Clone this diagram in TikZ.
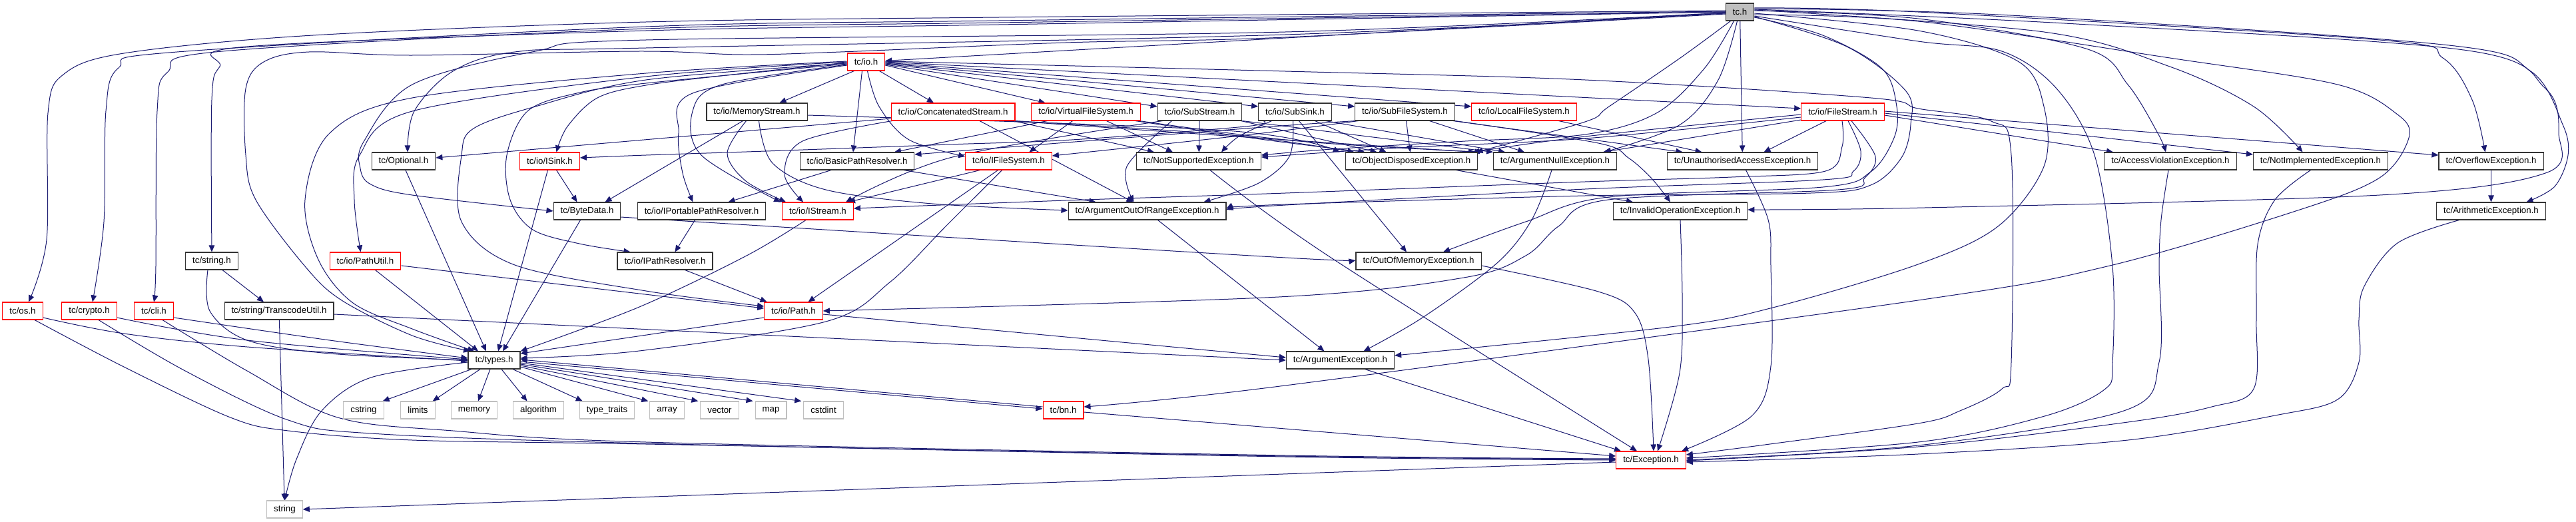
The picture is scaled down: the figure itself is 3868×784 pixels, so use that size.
\documentclass[tikz,border=0pt]{standalone}
\usepackage{fontspec}
\setmainfont{Liberation Sans}
\usetikzlibrary{arrows.meta}
\definecolor{edgec}{HTML}{191970}
\definecolor{redb}{HTML}{FF0000}
\definecolor{grayb}{HTML}{BFBFBF}
\definecolor{darkb}{HTML}{333333}
\pgfdeclarelayer{edgelayer}
\pgfsetlayers{edgelayer,main}
\begin{document}
\begin{tikzpicture}[x=1pt,y=-1pt,
  hbox/.style={rectangle,inner xsep=10.5pt,inner ysep=0pt,minimum height=26pt,line width=1.1pt,fill=white,
     font=\fontsize{13.3pt}{16pt}\selectfont},
  nblk/.style={hbox,draw=darkb},
  nred/.style={hbox,draw=redb},
  nsys/.style={hbox,draw=grayb},
  nroot/.style={hbox,draw=darkb,fill=grayb},
  edg/.style={draw=edgec,line width=1pt,-{Triangle[length=10pt,width=8.5pt]}},
  cv/.style={smooth,tension=0.55}]
\useasboundingbox (0,0) rectangle (3868,784);
% nodes
\node[nroot] (tc) at (2612.5,18) {tc.h};
\node[nred] (io) at (1300.5,93) {tc/io.h};
\node[nblk] (memst) at (1136.5,168) {tc/io/MemoryStream.h};
\node[nred] (concat) at (1431,168) {tc/io/ConcatenatedStream.h};
\node[nred] (vfs) at (1630.5,168) {tc/io/VirtualFileSystem.h};
\node[nblk] (subst) at (1801.5,168) {tc/io/SubStream.h};
\node[nblk] (subsink) at (1944.5,168) {tc/io/SubSink.h};
\node[nblk] (subfs) at (2109.5,168) {tc/io/SubFileSystem.h};
\node[nred] (localfs) at (2288.5,168) {tc/io/LocalFileSystem.h};
\node[nred] (filest) at (2767,168) {tc/io/FileStream.h};
\node[nblk] (optional) at (606,242) {tc/Optional.h};
\node[nred] (isink) at (825.5,242) {tc/io/ISink.h};
\node[nblk] (basicpr) at (1287,242) {tc/io/BasicPathResolver.h};
\node[nred] (ifs) at (1514.5,242) {tc/io/IFileSystem.h};
\node[nblk] (notsup) at (1800,242) {tc/NotSupportedException.h};
\node[nblk] (objdisp) at (2119.5,242) {tc/ObjectDisposedException.h};
\node[nblk] (argnull) at (2335,242) {tc/ArgumentNullException.h};
\node[nblk] (unauth) at (2616.5,242) {tc/UnauthorisedAccessException.h};
\node[nblk] (accviol) at (3259,242) {tc/AccessViolationException.h};
\node[nblk] (notimpl) at (3484.5,242) {tc/NotImplementedException.h};
\node[nblk] (overflow) at (3740.5,242) {tc/OverflowException.h};
\node[nblk] (bytedata) at (881.5,317) {tc/ByteData.h};
\node[nblk] (iportable) at (1053.5,317) {tc/io/IPortablePathResolver.h};
\node[nred] (istream) at (1228,317) {tc/io/IStream.h};
\node[nblk] (argoor) at (1722.5,317) {tc/ArgumentOutOfRangeException.h};
\node[nblk] (invop) at (2523,317) {tc/InvalidOperationException.h};
\node[nblk] (arith) at (3740.5,317) {tc/ArithmeticException.h};
\node[nblk] (tcstring) at (318,392) {tc/string.h};
\node[nred] (pathutil) at (548.5,392) {tc/io/PathUtil.h};
\node[nblk] (ipathres) at (998.5,392) {tc/io/IPathResolver.h};
\node[nblk] (outofmem) at (2130,392) {tc/OutOfMemoryException.h};
\node[nred] (os) at (34,467) {tc/os.h};
\node[nred] (crypto) at (134,467) {tc/crypto.h};
\node[nred] (cli) at (231,467) {tc/cli.h};
\node[nblk] (transcode) at (419,467) {tc/string/TranscodeUtil.h};
\node[nred] (path) at (1191.5,467) {tc/io/Path.h};
\node[nblk] (types) at (742,541) {tc/types.h};
\node[nblk] (argex) at (2012.5,541) {tc/ArgumentException.h};
\node[nsys] (cstring) at (546,616) {cstring};
\node[nsys] (limits) at (627.5,616) {limits};
\node[nsys] (memory) at (712,616) {memory};
\node[nsys] (algorithm) at (808.5,616) {algorithm};
\node[nsys] (typetraits) at (911.5,616) {type\_traits};
\node[nsys] (array) at (1001.5,616) {array};
\node[nsys] (vector) at (1080.5,616) {vector};
\node[nsys] (map) at (1157.5,616) {map};
\node[nsys] (cstdint) at (1236.5,616) {cstdint};
\node[nred] (bn) at (1596.5,616) {tc/bn.h};
\node[nred] (exception) at (2479,691) {tc/Exception.h};
\node[nsys] (string) at (427.5,765) {string};

\begin{pgfonlayer}{edgelayer}
\fill[white] (0,0) rectangle (3868,784);
% ---- tc.h
\draw[edg] plot[cv] coordinates {([yshift=2pt]tc.west) (1500,26) (970,33) (470,53) (186,80) (95,112) (72,170) (70,360) ([xshift=9pt]os.north)};
\draw[edg] plot[cv] coordinates {([yshift=1pt]tc.west) (1500,31) (970,40) (266,78) (178,102) (159,167) (156,333) ([xshift=5pt]crypto.north)};
\draw[edg] plot[cv] coordinates {(tc.west) (1500,34) (970,43) (334,77) (252,108) (236,167) (234,400) (cli.north)};
\draw[edg] plot[cv] coordinates {(tc.west) (1500,37) (970,46) (371,70) (330,100) (318,150) (tcstring.north)};
\draw[edg] plot[cv] coordinates {([yshift=-3pt]tc.west) (1930,56) (1600,64) (1262,78) (1115,82) (960,77) (619,83) (464,78) (396,93) (369,133) (369,233) (384,300) (458,400) (513,451) (619,504) ([xshift=-36pt]types.north)};
\draw[edg] plot[cv] coordinates {([yshift=-2pt]tc.west) (1930,52) (970,72) (773,78) (680,107) (622,167) ([xshift=6pt]optional.north)};
\draw[edg] plot[cv] coordinates {([yshift=-1pt]tc.west) (1930,48) (970,60) (804,77) (619,127) (546,213) (541,253) (557,277) (619,293) (bytedata.west)};
\draw[edg] (tc) -- (io);
\draw[edg] plot[cv] coordinates {([yshift=-4pt]tc.east) (2880,32) (3258,87) (3510,127) (3600,172) (3617,207) (3573,267) (3447,317) (3164,400) (2880,451) (1930,579) ([yshift=5pt]bn.east)};
\draw[edg] plot[cv] coordinates {([yshift=-2pt]tc.east) (2880,46) (3030,92) (3069,160) (3069,250) (3000,340) (2880,397) (2662,462) (2508,491) ([yshift=7pt]argex.east)};
\draw[edg] plot[cv] coordinates {([yshift=-6pt]tc.east) (2880,62) (3006,77) (3088,133) (3145,233) (3172,400) (3172,544) (3160,585) (3070,625) (2880,664) ([yshift=3pt]exception.east)};
\draw[edg] plot[cv] coordinates {([yshift=2pt]tc.east) (2880,28) (3132,73) (3195,127) (3240,200) ([xshift=-7pt]accviol.north)};
\draw[edg] plot[cv] coordinates {([yshift=3pt]tc.east) (3069,48) (3258,100) (3384,160) ([xshift=-27pt]notimpl.north)};
\draw[edg] plot[cv] coordinates {([yshift=6pt]tc.east) (2880,18) (3573,60) (3668,87) (3712,150) ([xshift=-9pt]overflow.north)};
\draw[edg] plot[cv] coordinates {([yshift=5pt]tc.east) (3000,22) (3668,67) (3800,107) (3848,187) (3856,233) (3836,280) ([xshift=53pt]arith.north)};
\draw[edg] plot[cv] coordinates {([yshift=4pt]tc.east) (3100,35) (3699,75) (3822,133) (3842,200) (3822,260) (3573,293) (2890,312) ([yshift=2pt]invop.east)};
\draw[edg] (tc) -- (unauth);
\draw[edg] plot[cv] coordinates {([xshift=-4pt]tc.south) (2580,120) (2523,187) ([xshift=74pt]argnull.north)};
\draw[edg] plot[cv] coordinates {([xshift=-14pt]tc.south) (2523,87) (2416,160) (2380,183) ([xshift=97pt]objdisp.north)};
\draw[edg] plot[cv] coordinates {([xshift=-9pt]tc.south) (2559,103) (2487,170) (2380,202) (2200,212) (2000,224) ([yshift=9pt]notsup.east)};
\draw[edg] plot[cv] coordinates {([yshift=-7pt]tc.east) (2773,70) (2862,137) (2869,187) (2855,237) (2809,278) (2719,290) (2380,294) (1930,307) ([yshift=4pt]argoor.east)};
\draw[edg] plot[cv] coordinates {([yshift=-8pt]tc.east) (2737,53) (2826,103) (2848,160) (2844,207) (2809,258) (2737,281) (2415,296) (2291,333) ([xshift=37pt]outofmem.north)};
% ---- io.h
\draw[edg] ([xshift=-18pt]io.south) -- ([xshift=34pt]memst.north);
\draw[edg] ([xshift=20pt]io.south) -- ([xshift=-29pt]concat.north);
\draw[edg] ([yshift=-5pt]io.east) -- ([xshift=-61pt]vfs.north);
\draw[edg] ([yshift=-4pt]io.east) -- ([yshift=8pt]subst.west);
\draw[edg] ([yshift=-3pt]io.east) -- ([yshift=8pt]subsink.west);
\draw[edg] ([yshift=-2pt]io.east) -- ([yshift=8pt]subfs.west);
\draw[edg] ([yshift=-1pt]io.east) -- ([yshift=8pt]localfs.west);
\draw[edg] ([yshift=0pt]io.east) -- ([yshift=5pt]filest.west);
\draw[edg] plot[cv] coordinates {([yshift=1pt]io.east) (1930,107) (2380,120) (2809,147) (2880,163) (2990,182) (3020,233) (3020,544) (3006,584) (2943,617) (2880,636) (2650,668) ([yshift=8pt]exception.east)};
\draw[edg] ([xshift=-6pt]io.south) -- ([xshift=-6pt]basicpr.north);
\draw[edg] plot[cv] coordinates {([xshift=2pt]io.south) (1320,160) (1365,210) ([yshift=7pt]ifs.west)};
\draw[edg] plot[cv] coordinates {([yshift=-4pt]io.west) (1084,127) (1040,167) (1053,233) ([xshift=-2pt]istream.north west)};
\draw[edg] plot[cv] coordinates {([yshift=-5pt]io.west) (1040,140) (1019,200) (1025,260) ([xshift=-13pt]iportable.north)};
\draw[edg] plot[cv] coordinates {([yshift=-1pt]io.west) (1100,112) (970,128) (897,147) (852,190) ([xshift=10pt]isink.north)};
\draw[edg] plot[cv] coordinates {(io.west) (970,115) (619,167) (540,233) (532,300) ([xshift=-7pt]pathutil.north)};
\draw[edg] plot[cv] coordinates {([yshift=-2pt]io.west) (970,120) (804,160) (711,193) (693,233) (693,333) (773,398) (970,437) ([yshift=7pt]path.west)};
\draw[edg] plot[cv] coordinates {([yshift=-3pt]io.west) (970,125) (866,140) (792,167) (761,233) (766,300) (800,345) (870,366) ([xshift=-52pt]ipathres.north)};
\draw[edg] plot[cv] coordinates {([yshift=1pt]io.west) (970,110) (619,147) (495,200) (458,300) (478,390) (530,455) (619,494) ([xshift=-30pt]types.north)};
% ---- row 2 sources
\draw[edg] ([xshift=-21pt]memst.south) -- ([xshift=27pt]bytedata.north);
\draw[edg] plot[cv] coordinates {([xshift=-16pt]memst.south) (1092,230) (1120,272) ([xshift=6pt]istream.north west)};
\draw[edg] plot[cv] coordinates {([xshift=3pt]memst.south) (1160,245) (1240,285) (1400,306) ([yshift=1pt]argoor.west)};
\draw[edg] plot[cv] coordinates {([yshift=-5pt]memst.east) (1840,196) ([xshift=-8pt]objdisp.north west)};
\draw[edg] plot[cv] coordinates {([xshift=2pt]concat.south west) (1205,212) (1178,262) ([xshift=-22pt]istream.north)};
\draw[edg] ([xshift=40pt]concat.south) -- ([xshift=-21pt]argoor.north);
\draw[edg] ([xshift=-3pt]concat.south east) -- ([xshift=-67pt]notsup.north);
\draw[edg] plot[cv] coordinates {(concat.south east) (1850,203) ([xshift=-86pt]objdisp.north)};
\draw[edg] plot[cv] coordinates {([xshift=-6pt]concat.south east) (1900,208) ([xshift=-120pt]argnull.north)};
\draw[edg] ([yshift=-10pt]concat.west) -- ([yshift=5pt]optional.east);
\draw[edg] ([xshift=-58pt]vfs.south) -- ([xshift=56pt]basicpr.north);
\draw[edg] ([xshift=-20pt]vfs.south) -- ([xshift=31pt]ifs.north);
\draw[edg] ([xshift=31pt]vfs.south) -- ([xshift=-39pt]notsup.north);
\draw[edg] plot[cv] coordinates {([xshift=-8pt]vfs.south east) (1900,210) ([xshift=-70pt]objdisp.north)};
\draw[edg] plot[cv] coordinates {([xshift=-2pt]vfs.south east) (1950,212) ([xshift=-110pt]argnull.north)};
\draw[edg] plot[cv] coordinates {([xshift=-56pt]subst.south) (1430,236) ([xshift=42pt]istream.north)};
\draw[edg] plot[cv] coordinates {([xshift=-42pt]subst.south) (1692,250) ([xshift=-20pt]argoor.north)};
\draw[edg] (subst) -- (notsup);
\draw[edg] ([xshift=-2pt]subst.south east) -- ([xshift=-52pt]objdisp.north);
\draw[edg] (subst.south east) -- ([xshift=-93pt]argnull.north);
\draw[edg] plot[cv] coordinates {([xshift=-48pt]subsink.south) (1870,190) (1609,210) (1425,217) (1150,227) (970,233) ([yshift=5pt]isink.east)};
\draw[edg] plot[cv] coordinates {([xshift=-3pt]subsink.south) (1936,235) (1890,275) ([xshift=85pt]argoor.north)};
\draw[edg] plot[cv] coordinates {([xshift=-35pt]subsink.south) (1860,205) ([xshift=34pt]notsup.north)};
\draw[edg] ([xshift=6pt]subsink.south) -- ([xshift=-18pt]outofmem.north);
\draw[edg] ([xshift=30pt]subsink.south) -- ([xshift=-38pt]objdisp.north);
\draw[edg] ([xshift=46pt]subsink.south) -- ([xshift=-75pt]argnull.north);
\draw[edg] plot[cv] coordinates {([xshift=-70pt]subfs.south) (1870,203) ([yshift=8pt]ifs.east)};
\draw[edg] plot[cv] coordinates {([xshift=-74pt]subfs.south) (1870,193) ([yshift=10pt]basicpr.east)};
\draw[edg] ([xshift=2pt]subfs.south) -- ([xshift=-2pt]objdisp.north);
\draw[edg] ([xshift=37pt]subfs.south) -- ([xshift=-46pt]argnull.north);
\draw[edg] ([xshift=-3pt]subfs.south east) -- ([xshift=-90pt]unauth.north);
\draw[edg] plot[cv] coordinates {(subfs.south east) (2400,215) (2445,237) (2480,268) ([xshift=-15pt]invop.north)};
\draw[edg] ([xshift=52pt]localfs.south) -- ([xshift=-61pt]unauth.north);
\draw[edg] ([xshift=-25pt]filest.south) -- ([xshift=32pt]unauth.north);
\draw[edg] ([yshift=-12pt]filest.west) -- ([xshift=72pt]argnull.north);
\draw[edg] plot[cv] coordinates {([yshift=-4pt]filest.west) (2380,205) ([xshift=92pt]objdisp.north)};
\draw[edg] plot[cv] coordinates {([yshift=-8pt]filest.west) (2380,208) (2100,222) ([yshift=6pt]notsup.east)};
\draw[edg] ([yshift=-5pt]filest.east) -- ([xshift=-86pt]accviol.north);
\draw[edg] ([yshift=-2pt]filest.east) -- ([yshift=10pt]notimpl.west);
\draw[edg] ([yshift=1pt]filest.east) -- ([yshift=9pt]overflow.west);
\draw[edg] plot[cv] coordinates {([xshift=-1pt]filest.south) (2766,220) (2741,257) (2600,266) (2380,273) (1930,290) (1600,301) ([yshift=4pt]istream.east)};
\draw[edg] plot[cv] coordinates {([xshift=8pt]filest.south) (2794,227) (2783,257) (2737,270) (2380,284) (1930,308) ([yshift=2pt]argoor.east)};
\draw[edg] plot[cv] coordinates {([xshift=13pt]filest.south) (2816,235) (2800,267) (2760,285) (2415,300) (2340,340) (2291,384) (2198,417) (1920,446) (path.east)};
% ---- row 3/4
\draw[edg] ([xshift=-39pt]basicpr.south) -- ([xshift=40pt]iportable.north);
\draw[edg] ([xshift=70pt]basicpr.south) -- ([xshift=-77pt]argoor.north);
\draw[edg] ([xshift=-43pt]ifs.south) -- ([xshift=46pt]istream.north);
\draw[edg] ([xshift=-16pt]ifs.south) -- ([xshift=22pt]path.north);
\draw[edg] plot[cv] coordinates {([xshift=-10pt]ifs.south) (1420,340) (1336,424) (1240,483) (960,527) ([yshift=3pt]types.east)};
\draw[edg] plot[cv] coordinates {([xshift=17pt]notsup.south) (1994,384) ([xshift=-21pt]exception.north)};
\draw[edg] ([xshift=67pt]objdisp.south) -- ([xshift=-71pt]invop.north);
\draw[edg] plot[cv] coordinates {([xshift=-5pt]argnull.south) (2300,330) (2248,395) (2136,477) ([xshift=35pt]argex.north)};
\draw[edg] ([xshift=16pt]argoor.south) -- ([xshift=-24pt]argex.north);
\draw[edg] plot[cv] coordinates {([xshift=5pt]unauth.south) (2655,330) (2659,400) (2659,550) (2630,625) ([xshift=46pt]exception.north)};
\draw[edg] plot[cv] coordinates {(invop.south) (2526,450) (2522,560) ([xshift=10pt]exception.north)};
\draw[edg] plot[cv] coordinates {([yshift=-7pt]outofmem.east) (2400,438) (2455,470) (2475,540) ([xshift=4pt]exception.north)};
\draw[edg] ([xshift=37pt]argex.south) -- ([xshift=-45pt]exception.north);
\draw[edg] plot[cv] coordinates {([xshift=-3pt]accviol.south) (3245,330) (3242,400) (3242,544) (3189,617) (2880,669) (exception.east)};
\draw[edg] plot[cv] coordinates {([xshift=-15pt]notimpl.south) (3416,300) (3390,367) (3388,480) (3384,584) (3321,611) (3195,634) (2880,671) ([yshift=-1pt]exception.east)};
\draw[edg] plot[cv] coordinates {([xshift=-48pt]arith.south) (3600,365) (3550,430) (3542,480) (3542,544) (3510,600) (3416,624) (3195,661) (2880,682) ([yshift=-3pt]exception.east)};
\draw[edg] (overflow) -- (arith);
\draw[edg] ([yshift=-3pt]exception.west) -- (string.east);
\draw[edg] ([yshift=-3pt]bn.east) -- ([yshift=6pt]exception.west);
% ---- os / crypto / cli
\draw[edg] plot[cv] coordinates {([xshift=18pt]os.south) (186,551) (346,627) (433,647) (619,661) (970,667) (1930,685) ([yshift=1pt]exception.west)};
\draw[edg] plot[cv] coordinates {([xshift=14pt]crypto.south) (278,557) (433,631) (557,651) (970,666) (1930,686) (exception.west)};
\draw[edg] plot[cv] coordinates {([xshift=13pt]cli.south) (371,557) (507,627) (680,647) (970,664) (1930,684) ([yshift=2pt]exception.west)};
\draw[edg] plot[cv] coordinates {([yshift=-10pt]os.east) (186,501) (371,521) ([yshift=-1pt]types.west)};
\draw[edg] plot[cv] coordinates {([yshift=-10pt]crypto.east) (371,511) ([yshift=1pt]types.west)};
\draw[edg] plot[cv] coordinates {([yshift=-10pt]cli.east) (495,511) ([yshift=3pt]types.west)};
\draw[edg] plot[cv] coordinates {([xshift=-6pt]tcstring.south) (315,467) (371,511) (495,531) (types.west)};
\draw[edg] ([xshift=16pt]tcstring.south) -- ([xshift=-23pt]transcode.north);
\draw[edg] (transcode) -- (string);
\draw[edg] ([yshift=-5pt]transcode.east) -- (argex.west);
\draw[edg] ([yshift=-5pt]path.east) -- ([yshift=4pt]argex.west);
\draw[edg] ([yshift=-10pt]path.west) -- ([yshift=10pt]types.east);
\draw[edg] plot[cv] coordinates {([xshift=-18pt]istream.south) (1121,384) (960,461) (types.north east)};
\draw[edg] ([xshift=15pt]pathutil.south) -- ([xshift=-24pt]types.north);
\draw[edg] ([yshift=-7pt]pathutil.east) -- ([yshift=4pt]path.west);
\draw[edg] ([xshift=30pt]ipathres.south) -- ([xshift=-40pt]path.north);
\draw[edg] ([xshift=-10pt]iportable.south) -- ([xshift=15pt]ipathres.north);
\draw[edg] ([xshift=10pt]isink.south) -- ([xshift=-15pt]bytedata.north);
\draw[edg] ([xshift=-3pt]isink.south) -- ([xshift=6pt]types.north);
\draw[edg] ([xshift=-10pt]bytedata.south) -- ([xshift=13pt]types.north);
\draw[edg] plot[cv] coordinates {([yshift=-9pt]bytedata.east) (1400,355) (1930,387) ([yshift=1pt]outofmem.west)};
\draw[edg] ([xshift=3pt]optional.south) -- ([xshift=-12pt]types.north);
% ---- types.h
\draw[edg] ([xshift=-34pt]types.south) -- ([xshift=-2pt]cstring.north east);
\draw[edg] ([xshift=-21pt]types.south) -- ([xshift=-4pt]limits.north east);
\draw[edg] ([xshift=-6pt]types.south) -- ([xshift=6pt]memory.north);
\draw[edg] ([xshift=11pt]types.south) -- ([xshift=-17pt]algorithm.north);
\draw[edg] ([xshift=28pt]types.south) -- ([xshift=5pt]typetraits.north west);
\draw[edg] ([yshift=-10pt]types.east) -- ([xshift=-2pt]array.north west);
\draw[edg] ([yshift=-8pt]types.east) -- ([xshift=-3pt]vector.north west);
\draw[edg] ([yshift=-6pt]types.east) -- ([xshift=-3pt]map.north west);
\draw[edg] ([yshift=-4pt]types.east) -- ([xshift=-3pt]cstdint.north west);
\draw[edg] ([yshift=-2pt]types.east) -- ([yshift=2pt]bn.west);
\draw[edg] ([yshift=5pt]bn.west) -- ([yshift=1pt]types.east);
\draw[edg] plot[cv] coordinates {([yshift=-3pt]types.west) (557,567) (483,617) (445,690) (string.north)};
\end{pgfonlayer}
\end{tikzpicture}
\end{document}
